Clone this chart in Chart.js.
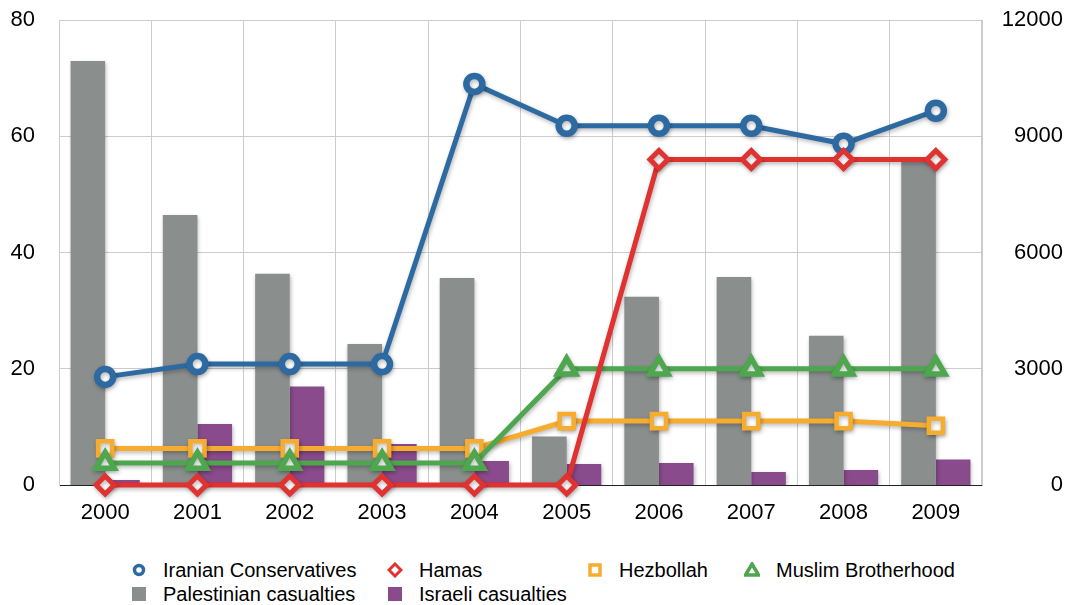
<!DOCTYPE html>
<html>
<head>
<meta charset="utf-8">
<script src="https://cdn.jsdelivr.net/npm/chart.js@4/dist/chart.umd.min.js"></script>
<style>
  body { margin: 0; background: #fff; font-family: 'Liberation Sans', Arial, sans-serif; }
  #wrap { position: relative; width: 1075px; height: 605px; }
  #chart { position: absolute; left: 0; top: 0; }
  #legend {
    position: absolute; left: 131px; top: 558px;
    display: grid; grid-template-columns: 256px 200px 157px auto;
    font-size: 20px; color: #000;
  }
  .item { display: flex; align-items: center; height: 24px; white-space: nowrap; }
  .item svg { margin-right: 16px; flex: none; }
</style>
</head>
<body>
<div id="wrap">
  <canvas id="chart" width="1075" height="545"></canvas>
  <div id="legend"></div>
</div>
<script>
const COLORS = {
    blue: 'rgb(46, 106, 162)',
    red: 'rgb(224, 50, 48)',
    orange: 'rgb(246, 172, 47)',
    green: 'rgb(78, 166, 78)',
    grey: 'rgb(138, 143, 142)',
    purple: 'rgb(138, 75, 140)'
};

// data
let years = ['2000', '2001', '2002', '2003', '2004', '2005', '2006', '2007', '2008', '2009'];

let iranianValues   = [18.6, 20.8, 20.8, 20.8, 69.0, 61.8, 61.8, 61.8, 58.7, 64.4];
let hamasValues     = [0, 0, 0, 0, 0, 0, 56, 56, 56, 56];
let hezbollahValues = [6.3, 6.3, 6.3, 6.3, 6.3, 11.0, 11.0, 11.0, 11.0, 10.2];
let brotherValues   = [3.8, 3.8, 3.8, 3.8, 3.8, 20, 20, 20, 20, 20];

let palestinianCasualties = [10940, 6970, 5450, 3640, 5340, 1250, 4860, 5370, 3850, 8340];
let israeliCasualties     = [130, 1575, 2540, 1060, 620, 540, 570, 335, 390, 655];

let leftTicks  = { max: 80, step: 20 };
let rightTicks = { max: 12000, step: 3000 };

const FONT = "'Liberation Sans', Arial, Helvetica, sans-serif";

function lineSet(label, data, color, style, radius, border) {
    return {
        type: 'line',
        label: label,
        data: data,
        yAxisID: 'y',
        borderColor: color,
        borderWidth: 5,
        pointStyle: style,
        pointRadius: radius,
        pointBorderWidth: border,
        pointBorderColor: color,
        pointBackgroundColor: '#fff',
        tension: 0,
        fill: false,
        clip: false
    };
}

// soft drop shadow like the original
const shadowPlugin = {
    id: 'shadow',
    beforeDatasetsDraw(chart) {
        const ctx = chart.ctx;
        ctx.save();
        ctx.shadowColor = 'rgba(0, 0, 0, 0.28)';
        ctx.shadowBlur = 4;
        ctx.shadowOffsetX = 1;
        ctx.shadowOffsetY = 2;
    },
    afterDatasetsDraw(chart) {
        chart.ctx.restore();
    }
};

// fixed axis widths; tick padding must not push the plot area down
function fixWidth(w) {
    return function (scale) {
        scale.width = w;
        scale.paddingTop = 0;
        scale.paddingBottom = 0;
    };
}

let ctx = document.getElementById('chart').getContext('2d');

let chart = new Chart(ctx, {
    type: 'bar',
    data: {
        labels: years,
        datasets: [
            lineSet('Hamas', hamasValues, COLORS.red, 'rectRot', 9, 5),
            lineSet('Iranian Conservatives', iranianValues, COLORS.blue, 'circle', 8, 6.5),
            lineSet('Muslim Brotherhood', brotherValues, COLORS.green, 'triangle', 10.5, 5.5),
            lineSet('Hezbollah', hezbollahValues, COLORS.orange, 'rect', 10, 4.5),
            {
                label: 'Palestinian casualties',
                data: palestinianCasualties,
                yAxisID: 'y1',
                backgroundColor: COLORS.grey,
                categoryPercentage: 0.75,
                barPercentage: 1.0
            },
            {
                label: 'Israeli casualties',
                data: israeliCasualties,
                yAxisID: 'y1',
                backgroundColor: COLORS.purple,
                categoryPercentage: 0.75,
                barPercentage: 1.0
            }
        ]
    },
    options: {
        responsive: false,
        animation: false,
        layout: { padding: { top: 20, left: 0, right: 12, bottom: 0 } },
        plugins: {
            legend: { display: false },
            tooltip: { enabled: false }
        },
        scales: {
            x: {
                grid: { color: '#cccccc', drawTicks: false, offset: true },
                border: { color: '#222', width: 1 },
                ticks: { color: '#000', font: { family: FONT, size: 22 }, padding: 15 },
                afterFit(scale) { scale.height = 60; }
            },
            y: {
                position: 'left',
                min: 0,
                max: leftTicks.max,
                grid: { color: '#cccccc', drawTicks: false },
                border: { color: '#cccccc' },
                ticks: { stepSize: leftTicks.step, color: '#000', font: { family: FONT, size: 22 }, padding: 24 },
                afterFit: fixWidth(59)
            },
            y1: {
                position: 'right',
                min: 0,
                max: rightTicks.max,
                grid: { display: false, drawTicks: false },
                border: { color: '#cccccc' },
                ticks: {
                    stepSize: rightTicks.step, color: '#000', font: { family: FONT, size: 22 },
                    padding: 21, crossAlign: 'far',
                    callback: function (value) { return String(value); }
                },
                afterFit: fixWidth(81)
            }
        }
    },
    plugins: [shadowPlugin]
});

// legend laid out as in the original, two rows in columns
let legendItems = [
    ['Iranian Conservatives', COLORS.blue, 'circle'],
    ['Hamas', COLORS.red, 'diamond'],
    ['Hezbollah', COLORS.orange, 'square'],
    ['Muslim Brotherhood', COLORS.green, 'triangle'],
    ['Palestinian casualties', COLORS.grey, 'box'],
    ['Israeli casualties', COLORS.purple, 'box']
];

function icon(kind, color) {
    let shape = '';
    if (kind === 'circle') shape = `<circle cx="8" cy="8" r="4.5" fill="#fff" stroke="${color}" stroke-width="3.5"/>`;
    if (kind === 'diamond') shape = `<polygon points="8,2 14,8 8,14 2,8" fill="#fff" stroke="${color}" stroke-width="3"/>`;
    if (kind === 'square') shape = `<rect x="3" y="3" width="10" height="10" fill="#fff" stroke="${color}" stroke-width="3.5"/>`;
    if (kind === 'triangle') shape = `<polygon points="8,2 14.5,13 1.5,13" fill="#fff" stroke="${color}" stroke-width="3.5"/>`;
    if (kind === 'box') shape = `<rect x="1" y="1" width="14" height="14" fill="${color}"/>`;
    return `<svg width="16" height="16" viewBox="0 0 16 16">${shape}</svg>`;
}

let legend = document.getElementById('legend');
legendItems.forEach(function (it) {
    let div = document.createElement('div');
    div.className = 'item';
    div.innerHTML = icon(it[2], it[1]) + '<span>' + it[0] + '</span>';
    legend.appendChild(div);
});
</script>
</body>
</html>
